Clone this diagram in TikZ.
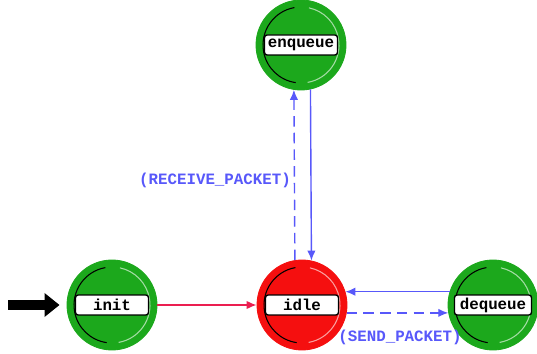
\documentclass[tikz,border=0pt]{standalone}
\usepackage{fontspec}
\newfontfamily\statefont{Liberation Mono}
\usetikzlibrary{arrows.meta}

\definecolor{stategreen}{RGB}{28,168,28}
\definecolor{statered}{RGB}{245,15,15}
\definecolor{transblue}{RGB}{88,88,250}
\definecolor{initred}{RGB}{235,30,80}

\tikzset{
  state/.style={circle,minimum size=1.8cm,inner sep=0pt,draw=#1,
    line width=0.5pt,fill=#1,
    path picture={
      \draw[black,line width=0.6pt] ([shift={(100:0.76cm)}]path picture bounding box.center)
        arc (100:262:0.76cm);
      \draw[white!60!#1,line width=0.6pt] ([shift={(-80:0.76cm)}]path picture bounding box.center)
        arc (-80:78:0.76cm);}},
  statelbl/.style={draw=black,line width=0.8pt,rounded corners=1.5pt,fill=white,
    minimum width=1.46cm,minimum height=0.4cm,inner sep=1pt,font=\statefont\bfseries\small},
  trlabel/.style={text=transblue,font=\statefont\bfseries\small},
  tr/.style={transblue,line width=0.8pt,-{Latex[length=2mm,width=1.7mm]}},
  trdash/.style={tr,dash pattern=on 6pt off 3.5pt},
}

\begin{document}
\begin{tikzpicture}[x=0.02cm,y=-0.02cm]
  \useasboundingbox (0,0) rectangle (537,354);

  % states
  \node[state=stategreen] (enqueue) at (301,45) {};
  \node[state=stategreen] (init) at (112,305) {};
  \node[state=statered] (idle) at (302,305) {};
  \node[state=stategreen] (dequeue) at (493,305) {};

  \node[statelbl] (enqueuelbl) at (enqueue) {enqueue};
  \node[statelbl] (initlbl) at (init) {init};
  \node[statelbl] (idlelbl) at (idle) {idle};
  \node[statelbl,minimum width=1.54cm] (dequeuelbl) at (dequeue) {dequeue};

  % initial arrow
  \coordinate (start) at (8,305);
  \draw[line width=0.2cm,-{Triangle[length=0.3cm,width=0.46cm]},shorten >=4pt] (start) -- (init);
  \draw[initred,line width=0.8pt,-{Latex[length=2mm,width=1.7mm]}] (init) -- (idle);

  % transitions
  \draw[trdash] (idle.99) -- (enqueue.-99);
  \draw[tr] (enqueue.-78) -- (idle.78);
  \draw[trdash] (idle.-10) -- (dequeue.190);
  \draw[tr] (dequeue.163) -- (idle.17);

  \node[trlabel] (rcvlbl) at (215,180) {(RECEIVE\_PACKET)};
  \node[trlabel] (sendlbl) at (400,337) {(SEND\_PACKET)};
\end{tikzpicture}
\end{document}
